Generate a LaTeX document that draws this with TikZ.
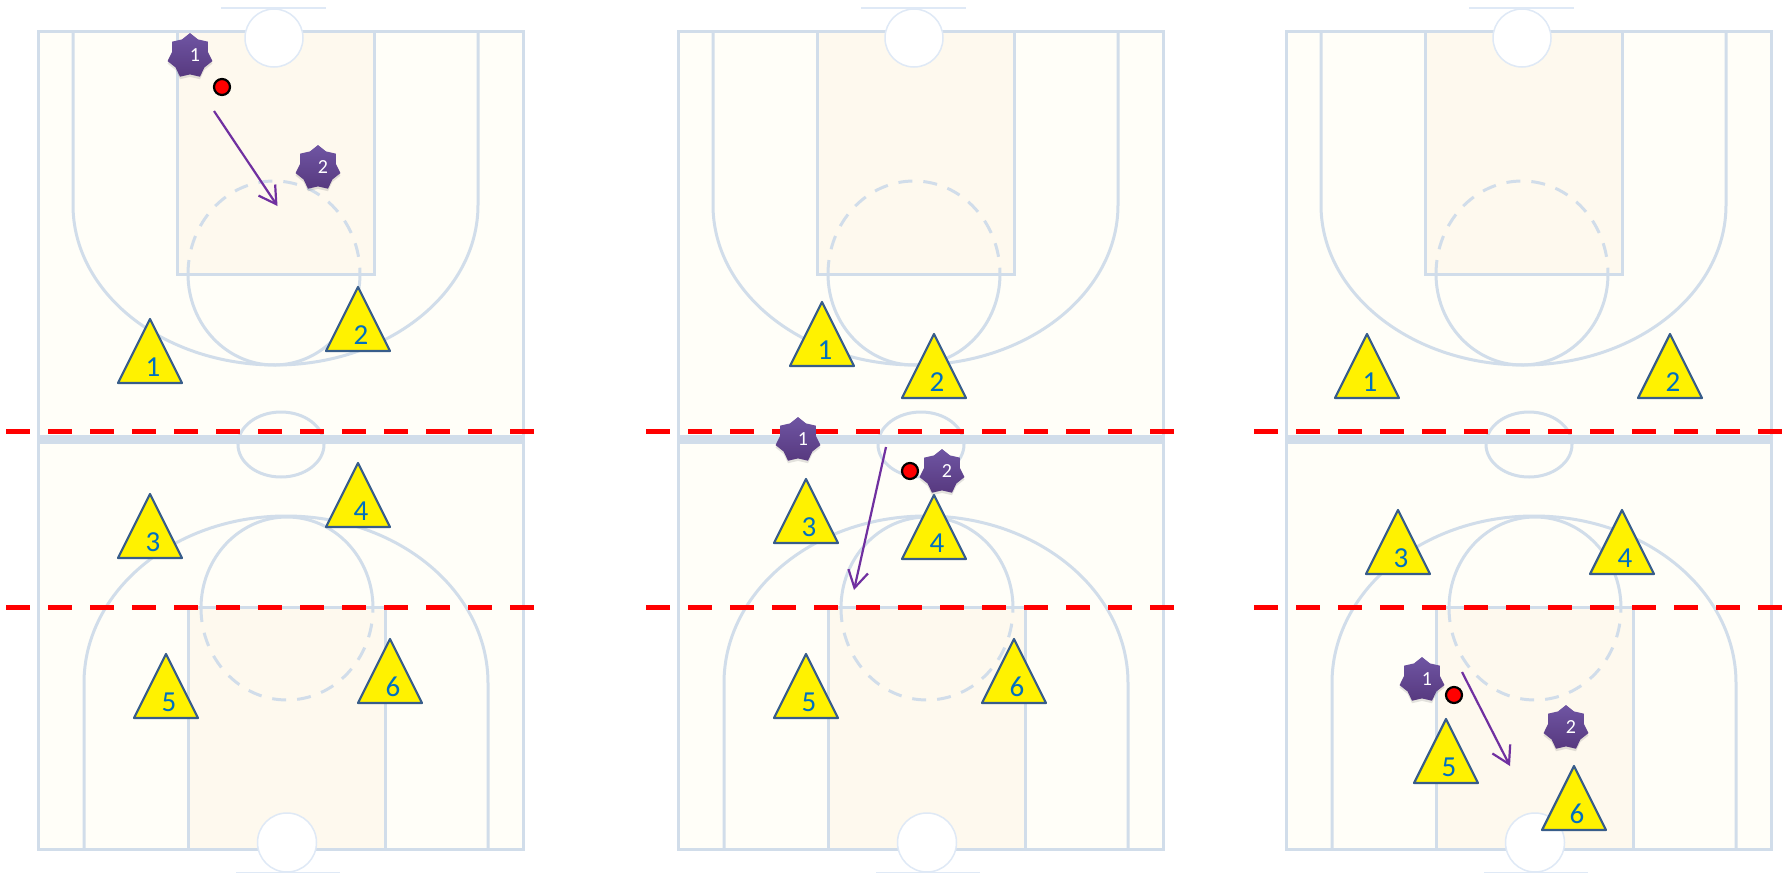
\documentclass[tikz,border=0pt]{standalone}
\usepackage{fontspec}
\setmainfont{Carlito}
\usetikzlibrary{arrows.meta,shapes.geometric,shadows}
\definecolor{courtline}{HTML}{D1DDEA}
\definecolor{courtbg}{HTML}{FFFEF8}
\definecolor{keybg}{HTML}{FEF9EE}
\definecolor{boardline}{HTML}{DFE9F6}
\definecolor{redline}{HTML}{FF0000}
\definecolor{triedge}{HTML}{385D8A}
\definecolor{trinum}{HTML}{0070C0}
\definecolor{runarrow}{HTML}{7030A0}
\definecolor{defTop}{HTML}{6F55A3}
\definecolor{defBot}{HTML}{57397F}
\tikzset{
  court/.style={draw=courtline,line width=3pt},
  courtdash/.style={court,dash pattern=on 14pt off 11pt},
  basket/.style={draw=boardline,fill=white,line width=1.5pt},
  guard/.style={draw=redline,line width=5pt,dash pattern=on 24pt off 18pt},
  cone/.style={draw=triedge,fill=yellow,line width=2.2pt,line join=round},
  conenum/.style={font=\fontsize{29}{29}\selectfont,text=trinum,inner sep=0pt},
  defender/.style={star,star points=7,star point ratio=1.25,minimum size=46pt,inner sep=0pt,
    top color=defTop,bottom color=defBot,draw=none,
    drop shadow={opacity=0.22,shadow xshift=0pt,shadow yshift=-2.5pt}},
  defnum/.style={font=\fontsize{20}{20}\selectfont,text=white,inner sep=0pt},
  ball/.style={circle,draw=black,fill=redline,line width=2.2pt,minimum size=16pt,inner sep=0pt},
  run/.style={draw=runarrow,line width=2.2pt,-{Straight Barb[length=17pt,width=20pt]}},
}
% one court, left edge at x=38
\newcommand{\courtlines}{%
  \fill[courtbg] (38,31) rectangle (523,849);
  \fill[keybg] (177,31) rectangle (374,274);
  \fill[keybg] (188,607) rectangle (385,849);
  % upper half
  \draw[court] (73,31) -- (73,205) arc[start angle=180,end angle=0,x radius=202.5,y radius=160] -- (478,31);
  \draw[court] (177,31) -- (177,274) -- (374,274) -- (374,31);
  \draw[court] (360,274) arc[start angle=0,end angle=180,x radius=86,y radius=91];
  \draw[courtdash] (188,274) arc[start angle=180,end angle=360,x radius=86,y radius=93];
  % lower half
  \draw[court] (84,849) -- (84,683) arc[start angle=180,end angle=360,x radius=202,y radius=167] -- (488,849);
  \draw[court] (188,849) -- (188,607) -- (385,607) -- (385,849);
  \draw[court] (373,608) arc[start angle=360,end angle=180,x radius=86,y radius=91];
  \draw[courtdash] (201,608) arc[start angle=180,end angle=0,x radius=86,y radius=92];
  % centre
  \draw[court] (281,444.5) ellipse[x radius=43,y radius=32.5];
  \draw[court] (38,31) rectangle (523,849);
  \draw[courtline,line width=9pt] (38,439) -- (523,439);
  % baskets
  \draw[boardline,line width=1.5pt] (221,8) -- (326,8);
  \draw[boardline,line width=1.5pt] (236,872.5) -- (340,872.5);
  \draw[basket] (274,38) circle[radius=29];
  \draw[basket] (287,842.5) circle[radius=29.5];
  % red lines
  \draw[guard] (6,431) -- (534,431);
  \draw[guard] (6,607) -- (534,607);
}
\begin{document}
\begin{tikzpicture}[x=1pt,y=-1pt]
  \useasboundingbox (0,0) rectangle (1789,876);
  \foreach \dx in {0,640,1248} {
    \begin{scope}[xshift=\dx pt]
      \courtlines
    \end{scope}
  }
  % triangles, apex given
  \foreach \n/\ax/\ay/\lab in {
    a1/150/319/1,a2/358/287/2,a3/150/494/3,a4/358/463/4,a5/166/654/5,a6/390/639/6,
    b1/822/302/1,b2/934/334/2,b3/806/479/3,b4/934/495/4,b5/806/654/5,b6/1014/639/6,
    c1/1367/334/1,c2/1670/334/2,c3/1398/510/3,c4/1622/510/4,c5/1446/719/5,c6/1574/766/6} {
    \draw[cone] (\ax-32,\ay+64) -- (\ax,\ay) -- (\ax+32,\ay+64) -- cycle;
    \node[conenum] (\n) at (\ax+3,\ay+48) {\lab};
  }
  % defenders
  \foreach \n/\sx/\sy/\lab in {
    sa1/190/56/1,sa2/318/168/2,
    sb1/798/440/1,sb2/942/472/2,
    sc1/1422/680/1,sc2/1566/728/2} {
    \node[defender] (\n) at (\sx,\sy) {};
    \node[defnum] (\n lab) at (\sx+5,\sy-1) {\lab};
  }
  % ball
  \node[ball] (balla) at (222,87) {};
  \node[ball] (ballb) at (910,471) {};
  \node[ball] (ballc) at (1454,695) {};
  % runs
  \coordinate (ra) at (214,111);
  \coordinate (rae) at (277.5,206);
  \coordinate (rb) at (886,447);
  \coordinate (rbe) at (854,590);
  \coordinate (rc) at (1462,672);
  \coordinate (rce) at (1510,766);
  \draw[run] (ra) -- (rae);
  \draw[run] (rb) -- (rbe);
  \draw[run] (rc) -- (rce);
\end{tikzpicture}
\end{document}
